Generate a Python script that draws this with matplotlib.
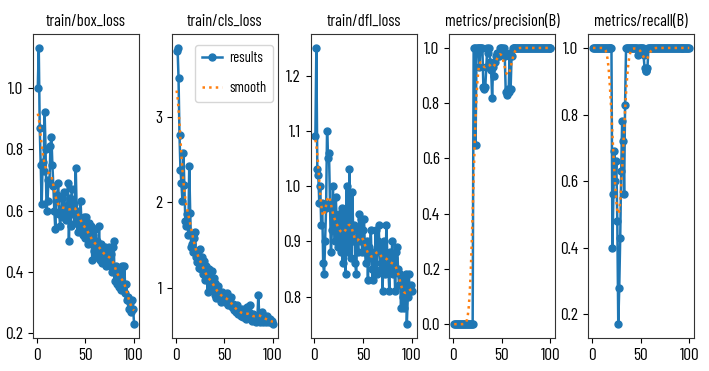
import numpy as np
import matplotlib
matplotlib.use('Agg')
import matplotlib.pyplot as plt
from matplotlib import font_manager as fm

# Training results, epochs 1..100
epochs = list(range(1, 101))

box_loss = [
    1.00, 1.13, 0.87, 0.75, 0.62, 0.76, 0.73, 0.92, 0.80, 0.60,
    0.63, 0.70, 0.69, 0.81, 0.84, 0.75, 0.68, 0.60, 0.54, 0.63,
    0.65, 0.69, 0.59, 0.55, 0.60, 0.64, 0.58, 0.66, 0.61, 0.57,
    0.60, 0.69, 0.50, 0.64, 0.55, 0.67, 0.59, 0.62, 0.56, 0.74,
    0.60, 0.53, 0.58, 0.54, 0.63, 0.55, 0.52, 0.58, 0.55, 0.51,
    0.58, 0.53, 0.49, 0.56, 0.50, 0.55, 0.44, 0.52, 0.47, 0.54,
    0.45, 0.50, 0.46, 0.55, 0.44, 0.49, 0.43, 0.48, 0.45, 0.48,
    0.42, 0.47, 0.44, 0.48, 0.42, 0.46, 0.40, 0.48, 0.50, 0.37,
    0.42, 0.36, 0.41, 0.35, 0.40, 0.38, 0.34, 0.42, 0.36, 0.42,
    0.33, 0.36, 0.31, 0.32, 0.28, 0.30, 0.27, 0.31, 0.28, 0.23,
]

cls_loss = [
    3.76, 3.80, 3.45, 2.78, 2.38, 2.22, 2.02, 2.58, 2.20, 1.78,
    1.72, 1.86, 1.62, 2.42, 1.88, 1.48, 1.52, 1.42, 1.58, 1.66,
    1.36, 1.30, 1.40, 1.24, 1.46, 1.22, 1.36, 1.16, 1.32, 1.10,
    1.26, 1.12, 0.96, 1.22, 1.04, 1.10, 1.20, 0.98, 1.12, 0.92,
    1.06, 0.88, 0.98, 1.02, 0.88, 0.94, 0.84, 0.96, 0.88, 0.92,
    0.84, 0.90, 0.94, 0.80, 0.88, 0.82, 0.90, 0.78, 0.82, 0.74,
    0.78, 0.72, 0.80, 0.70, 0.76, 0.72, 0.68, 0.76, 0.66, 0.72,
    0.68, 0.64, 0.78, 0.66, 0.72, 0.80, 0.64, 0.68, 0.62, 0.70,
    0.64, 0.68, 0.60, 0.64, 0.92, 0.68, 0.60, 0.64, 0.72, 0.60,
    0.68, 0.64, 0.60, 0.68, 0.64, 0.60, 0.64, 0.60, 0.62, 0.58,
]

dfl_loss = [
    1.09, 1.25, 1.03, 1.02, 0.97, 1.00, 0.93, 0.97, 0.86, 0.84,
    0.90, 0.96, 1.10, 1.05, 1.06, 0.97, 0.88, 0.92, 1.00, 0.94,
    0.90, 0.98, 0.93, 0.89, 0.95, 0.92, 0.88, 0.96, 0.86, 0.95,
    0.92, 0.84, 1.00, 0.91, 0.88, 1.03, 0.93, 0.87, 0.99, 0.90,
    0.93, 0.86, 0.84, 0.92, 0.88, 0.95, 0.90, 0.94, 0.88, 0.92,
    0.94, 0.88, 0.86, 0.90, 0.83, 0.89, 0.87, 0.92, 0.85, 0.83,
    0.88, 0.86, 0.92, 0.84, 0.90, 0.93, 0.88, 0.85, 0.89, 0.81,
    0.87, 0.90, 0.84, 0.93, 0.87, 0.85, 0.81, 0.88, 0.86, 0.90,
    0.84, 0.87, 0.81, 0.88, 0.89, 0.85, 0.82, 0.84, 0.78, 0.83,
    0.80, 0.78, 0.82, 0.84, 0.75, 0.80, 0.84, 0.81, 0.82, 0.81,
]

precision = [
    0.00, 0.00, 0.00, 0.00, 0.00, 0.00, 0.00, 0.00, 0.00, 0.00,
    0.00, 0.00, 0.00, 0.00, 0.00, 0.00, 0.00, 0.00, 0.00, 0.00,
    1.00, 1.00, 0.65, 1.00, 1.00, 1.00, 0.93, 1.00, 1.00, 1.00,
    0.86, 0.85, 0.86, 0.93, 1.00, 0.98, 1.00, 0.95, 0.92, 0.82,
    0.93, 0.90, 0.95, 0.97, 0.98, 0.97, 0.97, 1.00, 1.00, 1.00,
    0.98, 1.00, 0.97, 0.84, 0.83, 0.85, 0.84, 0.98, 0.85, 0.97,
    1.00, 1.00, 1.00, 1.00, 1.00, 1.00, 1.00, 1.00, 1.00, 1.00,
    1.00, 1.00, 1.00, 1.00, 1.00, 1.00, 1.00, 1.00, 1.00, 1.00,
    1.00, 1.00, 1.00, 1.00, 1.00, 1.00, 1.00, 1.00, 1.00, 1.00,
    1.00, 1.00, 1.00, 1.00, 1.00, 1.00, 1.00, 1.00, 1.00, 1.00,
]

recall = [
    1.00, 1.00, 1.00, 1.00, 1.00, 1.00, 1.00, 1.00, 1.00, 1.00,
    1.00, 1.00, 1.00, 1.00, 1.00, 1.00, 1.00, 1.00, 1.00, 1.00,
    0.40, 0.56, 0.69, 0.60, 0.66, 0.48, 0.17, 0.28, 0.43, 0.63,
    0.78, 0.72, 0.56, 0.83, 1.00, 1.00, 1.00, 1.00, 1.00, 1.00,
    1.00, 1.00, 1.00, 1.00, 1.00, 1.00, 0.98, 1.00, 1.00, 1.00,
    1.00, 1.00, 0.98, 0.94, 0.93, 0.93, 0.94, 1.00, 1.00, 1.00,
    1.00, 1.00, 1.00, 1.00, 1.00, 1.00, 1.00, 1.00, 1.00, 1.00,
    1.00, 1.00, 1.00, 1.00, 1.00, 1.00, 1.00, 1.00, 1.00, 1.00,
    1.00, 1.00, 1.00, 1.00, 1.00, 1.00, 1.00, 1.00, 1.00, 1.00,
    1.00, 1.00, 1.00, 1.00, 1.00, 1.00, 1.00, 1.00, 1.00, 1.00,
]

titles = ['train/box_loss', 'train/cls_loss', 'train/dfl_loss',
          'metrics/precision(B)', 'metrics/recall(B)']
series = [box_loss, cls_loss, dfl_loss, precision, recall]
yticks = [
    [0.2, 0.4, 0.6, 0.8, 1.0],
    [1, 2, 3],
    [0.8, 0.9, 1.0, 1.1, 1.2],
    [0.0, 0.2, 0.4, 0.6, 0.8, 1.0],
    [0.2, 0.4, 0.6, 0.8, 1.0],
]
xticks = [0, 50, 100]


def gaussian_smooth(y, sigma=3):
    """Same smoothing as scipy.ndimage.gaussian_filter1d (reflect mode)"""
    radius = int(4 * sigma + 0.5)
    k = np.exp(-0.5 * (np.arange(-radius, radius + 1) / sigma) ** 2)
    k /= k.sum()
    yp = np.pad(np.asarray(y, dtype=float), radius, mode='symmetric')
    return np.convolve(yp, k, mode='valid')


# The reference text is horizontally squeezed, so use a narrow face if present
installed = {f.name for f in fm.fontManager.ttflist}
if 'Barlow Condensed' in installed:
    plt.rcParams['font.family'] = ['Barlow Condensed', 'DejaVu Sans']
    fs = 1.0
elif 'Archivo Narrow' in installed:
    plt.rcParams['font.family'] = ['Archivo Narrow', 'DejaVu Sans']
    fs = 0.85
else:
    plt.rcParams['font.family'] = ['DejaVu Sans']
    fs = 0.62

fig, axes = plt.subplots(1, 5, figsize=(7.09, 3.71), dpi=100)
fig.subplots_adjust(left=0.0465, right=0.979, bottom=0.089, top=0.908, wspace=0.31)

for i, ax in enumerate(axes):
    y = series[i]
    ax.plot(epochs, y, marker='o', markersize=5, linewidth=1.8,
            color='#1f77b4', label='results')
    ax.plot(epochs, gaussian_smooth(y), ':', linewidth=1.8,
            color='#ff7f0e', label='smooth')
    ax.set_title(titles[i], fontsize=11.8 * fs, pad=6)
    ax.set_xticks(xticks)
    ax.set_yticks(yticks[i])
    ax.tick_params(labelsize=12.5 * fs)
    for s in ax.spines.values():
        s.set_color('#333333')

axes[1].legend(loc='upper right', bbox_to_anchor=(0.955, 0.965), borderaxespad=0,
               handlelength=1.4, handletextpad=0.5, labelspacing=1.1,
               borderpad=0.45, fontsize=10.5 * fs)

fig.savefig('out.png', dpi=100)
